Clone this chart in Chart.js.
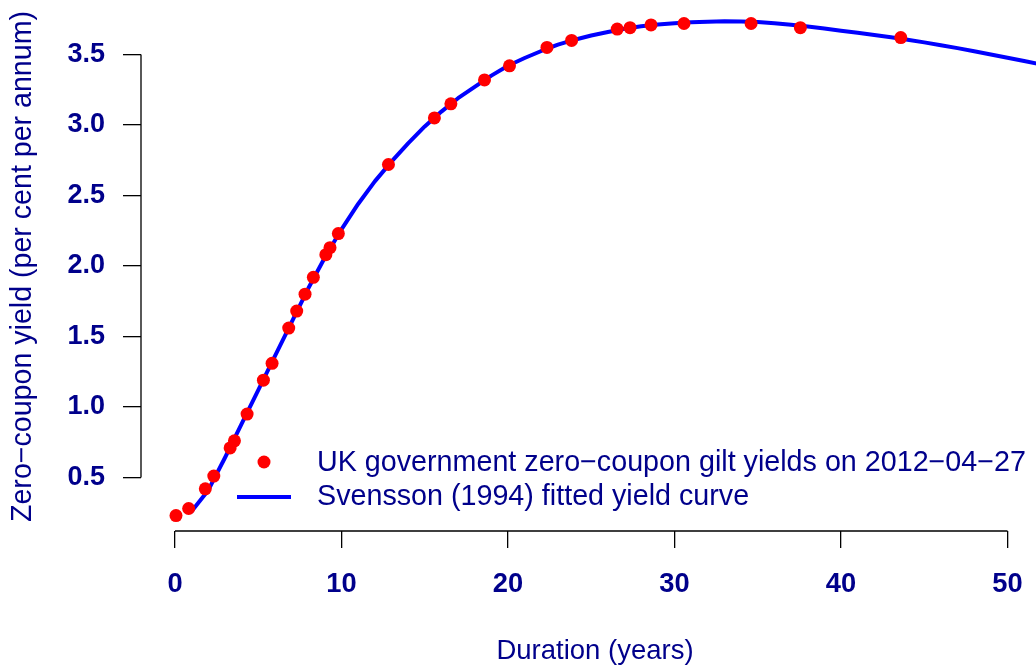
<!DOCTYPE html>
<html>
<head>
<meta charset="utf-8">
<script src="https://cdn.jsdelivr.net/npm/chart.js@4.4.1/dist/chart.umd.min.js"></script>
<style>
  html, body { margin: 0; padding: 0; background: #ffffff; overflow: hidden; width: 1036px; height: 666px; }
  #wrap { position: absolute; left: 0; top: 0; width: 1050px; height: 666px; }
</style>
</head>
<body>
<div id="wrap"><canvas id="c" width="1050" height="666"></canvas></div>
<script>
// ---- data ----
const durations = [0.06, 0.82, 1.82, 2.33, 3.31, 3.57, 4.33, 5.31, 5.83, 6.83, 7.31, 7.81, 8.31, 9.06, 9.31, 9.81,
                   12.82, 15.58, 16.57, 18.59, 20.09, 22.34, 23.82, 26.56, 27.33, 28.59, 30.57, 34.60, 37.56, 43.59];
const yields    = [0.23, 0.28, 0.42, 0.51, 0.71, 0.76, 0.95, 1.19, 1.31, 1.56, 1.68, 1.80, 1.92, 2.08, 2.13, 2.23,
                   2.72, 3.05, 3.15, 3.32, 3.42, 3.55, 3.60, 3.68, 3.69, 3.71, 3.72, 3.72, 3.69, 3.62];
const fitYears  = [1,2,3,4,5,6,7,8,9,10,11,12,13,14,15,16,17,18,19,20,21,22,23,24,25,26,27,28,29,30,
                   31,32,33,34,35,36,37,38,39,40,41,42,43,44,45,46,47,48,49,50,51,52,53];
const fitYields = [0.26, 0.41, 0.64, 0.88, 1.12, 1.36, 1.60, 1.84, 2.06, 2.26, 2.44, 2.60, 2.74, 2.87, 2.99,
                   3.095, 3.19, 3.27, 3.35, 3.42, 3.475, 3.525, 3.57, 3.605, 3.635, 3.66, 3.683, 3.70, 3.712, 3.722,
                   3.729, 3.733, 3.735, 3.734, 3.73, 3.722, 3.711, 3.698, 3.684, 3.669, 3.654, 3.638, 3.622, 3.605,
                   3.586, 3.566, 3.545, 3.523, 3.50, 3.477, 3.454, 3.43, 3.407];
const xTickValues = [0, 10, 20, 30, 40, 50];
const yTickValues = [0.5, 1.0, 1.5, 2.0, 2.5, 3.0, 3.5];
const pointsLabel = "UK government zero\u2212coupon gilt yields on 2012\u221204\u221227";
const curveLabel  = "Svensson (1994) fitted yield curve";
const xTitle = "Duration (years)";
const yTitle = "Zero\u2212coupon yield (per cent per annum)";

// ---- styling ----
const NAVY = "#00008B";
const FONT = "'Liberation Sans', Arial, Helvetica, sans-serif";
Chart.defaults.font.family = FONT;

// axis lines drawn R-style (only between first and last tick)
const rAxes = {
  id: 'rAxes',
  afterDraw(chart) {
    const {ctx, chartArea, scales} = chart;
    ctx.save();
    ctx.strokeStyle = '#000';
    ctx.lineWidth = 1.3;
    const xs = scales.x, ys = scales.y;
    ctx.beginPath();
    ctx.moveTo(xs.getPixelForValue(xTickValues[0]), chartArea.bottom);
    ctx.lineTo(xs.getPixelForValue(xTickValues[xTickValues.length - 1]), chartArea.bottom);
    ctx.moveTo(chartArea.left, ys.getPixelForValue(yTickValues[0]));
    ctx.lineTo(chartArea.left, ys.getPixelForValue(yTickValues[yTickValues.length - 1]));
    ctx.stroke();
    ctx.restore();
  }
};

// legend drawn like R's legend(bty = "n")
const rLegend = {
  id: 'rLegend',
  afterDraw(chart) {
    const {ctx} = chart;
    const ds = chart.data.datasets;
    const pts = ds.find(d => d.type === 'scatter');
    const crv = ds.find(d => d.type === 'line');
    ctx.save();
    ctx.fillStyle = pts.backgroundColor;
    ctx.beginPath();
    ctx.arc(264, 462, 6.5, 0, Math.PI * 2);
    ctx.fill();
    ctx.strokeStyle = crv.borderColor;
    ctx.lineWidth = 4;
    ctx.beginPath();
    ctx.moveTo(237, 497);
    ctx.lineTo(291, 497);
    ctx.stroke();
    ctx.fillStyle = NAVY;
    ctx.font = "28.7px " + FONT;
    ctx.textBaseline = 'middle';
    ctx.textAlign = 'left';
    ctx.fillText(pts.label, 317, 463);
    ctx.fillText(crv.label, 317, 497);
    ctx.restore();
  }
};

// geometry of the reference plot region
const PX0 = 175, PX50 = 1007.5, LEFT = 141, RIGHT = 1049;
const pxPerYear = (PX50 - PX0) / 50;
const PY05 = 477.5, PY35 = 54.5, TOP = 2, BOTTOM = 531;
const pxPerUnit = (PY05 - PY35) / 3;

function noPad(s) { s.paddingLeft = 0; s.paddingRight = 0; s.paddingTop = 0; s.paddingBottom = 0; }

new Chart(document.getElementById('c'), {
  data: {
    datasets: [
      {
        type: 'scatter',
        label: pointsLabel,
        data: durations.map((d, i) => ({x: d, y: yields[i]})),
        backgroundColor: '#FF0000',
        borderColor: '#FF0000',
        pointRadius: 6.5,
        pointBorderWidth: 0,
        order: 0
      },
      {
        type: 'line',
        label: curveLabel,
        data: fitYears.map((d, i) => ({x: d, y: fitYields[i]})),
        borderColor: '#0000FF',
        borderWidth: 4,
        pointRadius: 0,
        tension: 0,
        fill: false,
        borderCapStyle: 'round',
        borderJoinStyle: 'round',
        order: 1
      }
    ]
  },
  options: {
    responsive: false,
    animation: false,
    devicePixelRatio: 1,
    layout: { autoPadding: false, padding: { left: 0, right: 1050 - RIGHT, top: TOP, bottom: 0 } },
    plugins: { legend: { display: false }, tooltip: { enabled: false } },
    scales: {
      x: {
        type: 'linear',
        position: 'bottom',
        min: 0 - (PX0 - LEFT) / pxPerYear,
        max: (RIGHT - PX0) / pxPerYear,
        afterBuildTicks: s => { s.ticks = xTickValues.map(v => ({value: v})); },
        afterFit: s => { s.height = 666 - BOTTOM; noPad(s); },
        border: { display: false },
        grid: { drawOnChartArea: false, drawTicks: true, tickLength: 17, color: '#000', lineWidth: 1.3 },
        ticks: {
          color: NAVY, padding: 20, maxRotation: 0, autoSkip: false,
          font: { size: 27.3, weight: 'bold' },
          callback: v => String(v)
        },
        title: { display: true, text: xTitle, color: NAVY, font: { size: 27.5 }, padding: { top: 0, bottom: -1.5 } }
      },
      y: {
        type: 'linear',
        position: 'left',
        min: 0.5 - (BOTTOM - PY05) / pxPerUnit,
        max: 3.5 + (PY35 - TOP) / pxPerUnit,
        afterBuildTicks: s => { s.ticks = yTickValues.map(v => ({value: v})); },
        afterFit: s => { s.width = LEFT; noPad(s); },
        border: { display: false },
        grid: { drawOnChartArea: false, drawTicks: true, tickLength: 18, color: '#000', lineWidth: 1.3 },
        ticks: {
          color: NAVY, padding: 18, autoSkip: false,
          font: { size: 27, weight: 'bold' },
          callback: v => Number(v).toFixed(1)
        },
        title: { display: true, text: yTitle, color: NAVY, font: { size: 28.6 }, padding: { top: 6, bottom: 0 } }
      }
    }
  },
  plugins: [rAxes, rLegend]
});
</script>
</body>
</html>
